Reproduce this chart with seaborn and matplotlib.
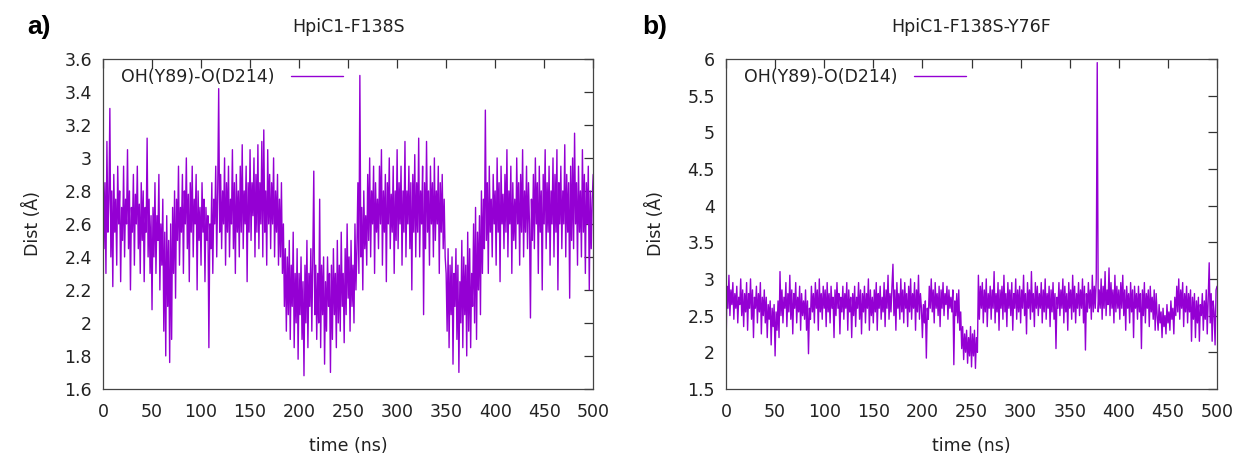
import numpy as np
import pandas as pd
import matplotlib
matplotlib.use("Agg")
import matplotlib.pyplot as plt
import seaborn as sns

# distance OH(Y89)-O(D214), every 1 ns (one row = 10 ns)
dist_a = [
    3.02, 2.45, 2.85, 2.30, 3.10, 2.55, 2.75, 3.30, 2.40, 2.80,
    2.22, 2.90, 2.55, 2.75, 2.35, 2.95, 2.60, 2.80, 2.25, 2.70,
    2.50, 2.95, 2.40, 2.75, 2.60, 3.05, 2.45, 2.80, 2.20, 2.70,
    2.55, 2.90, 2.35, 2.78, 2.60, 2.95, 2.45, 2.72, 2.30, 2.85,
    2.50, 2.80, 2.25, 2.70, 2.55, 3.12, 2.40, 2.75, 2.30, 2.65,
    2.08, 2.70, 2.40, 2.85, 2.30, 2.65, 2.50, 2.90, 2.20, 2.60,
    2.35, 2.75, 1.95, 2.55, 1.80, 2.65, 2.10, 2.50, 1.76, 2.60,
    1.90, 2.70, 2.30, 2.80, 2.15, 2.75, 2.50, 2.95, 2.35, 2.70,
    2.55, 2.90, 2.30, 2.80, 2.60, 3.00, 2.45, 2.78, 2.25, 2.85,
    2.55, 2.95, 2.40, 2.75, 2.60, 2.90, 2.20, 2.80, 2.50, 2.70,
    2.35, 2.85, 2.55, 2.75, 2.25, 2.70, 2.50, 2.65, 1.85, 2.60,
    2.45, 2.85, 2.30, 2.75, 2.60, 2.95, 2.40, 2.80, 3.42, 2.55,
    2.90, 2.45, 2.80, 2.60, 3.00, 2.35, 2.85, 2.55, 2.95, 2.40,
    2.75, 2.60, 3.05, 2.45, 2.85, 2.30, 2.90, 2.55, 2.80, 2.40,
    2.95, 2.55, 3.08, 2.45, 2.80, 2.60, 2.95, 2.25, 2.85, 2.55,
    3.05, 2.50, 2.85, 2.65, 3.00, 2.40, 2.90, 2.55, 3.08, 2.45,
    2.85, 2.60, 3.10, 2.40, 3.17, 2.55, 2.80, 2.35, 3.05, 2.60,
    2.90, 2.45, 2.85, 2.60, 3.00, 2.40, 2.80, 2.55, 2.90, 2.35,
    2.75, 2.40, 2.85, 2.30, 2.60, 2.10, 2.45, 1.95, 2.40, 2.05,
    2.50, 1.90, 2.35, 2.10, 2.55, 1.85, 2.30, 2.00, 2.45, 1.78,
    2.30, 2.05, 2.40, 1.90, 2.25, 1.68, 2.35, 2.00, 2.50, 1.85,
    2.30, 2.10, 2.45, 1.95, 2.40, 2.92, 2.05, 2.35, 1.90, 2.30,
    2.00, 2.75, 1.85, 2.35, 2.05, 2.40, 1.75, 2.25, 1.95, 2.40,
    2.10, 2.30, 1.70, 2.35, 1.90, 2.45, 2.05, 2.30, 1.85, 2.50,
    2.00, 2.35, 1.95, 2.55, 2.10, 2.30, 1.88, 2.45, 2.05, 2.60,
    2.15, 2.40, 1.95, 2.50, 2.10, 2.35, 2.00, 2.60, 2.20, 2.45,
    2.85, 2.30, 3.50, 2.40, 2.70, 2.20, 2.80, 2.45, 2.65, 2.35,
    2.90, 2.50, 3.00, 2.40, 2.80, 2.60, 2.95, 2.30, 2.85, 2.55,
    2.75, 2.45, 2.95, 2.60, 3.05, 2.35, 2.80, 2.55, 2.90, 2.25,
    2.85, 2.60, 3.00, 2.45, 2.78, 2.55, 2.95, 2.30, 2.80, 2.50,
    3.05, 2.45, 2.85, 2.60, 2.95, 2.35, 2.80, 2.55, 3.10, 2.40,
    2.80, 2.60, 2.95, 2.45, 2.85, 2.20, 2.90, 2.55, 3.02, 2.40,
    2.85, 2.55, 3.12, 2.40, 2.80, 2.60, 2.95, 2.05, 2.85, 2.45,
    3.10, 2.55, 2.80, 2.35, 2.95, 2.60, 2.85, 2.40, 3.00, 2.50,
    2.80, 2.60, 2.95, 2.30, 2.85, 2.55, 2.90, 2.45, 2.75, 2.40,
    2.30, 1.95, 2.45, 1.85, 2.35, 2.05, 2.40, 1.75, 2.30, 2.10,
    2.45, 1.90, 2.35, 1.70, 2.25, 2.00, 2.50, 1.85, 2.40, 2.05,
    2.35, 1.80, 2.55, 1.95, 2.45, 1.85, 2.30, 2.10, 2.60, 2.00,
    2.70, 1.90, 2.55, 2.20, 2.65, 2.05, 2.80, 2.30, 2.75, 2.45,
    3.29, 2.50, 2.85, 2.30, 2.95, 2.55, 2.75, 2.40, 2.90, 2.60,
    2.80, 2.35, 3.00, 2.55, 2.85, 2.25, 2.95, 2.60, 2.78, 2.45,
    2.90, 2.55, 3.05, 2.40, 2.80, 2.60, 2.95, 2.30, 2.85, 2.50,
    2.75, 2.45, 3.00, 2.60, 2.85, 2.35, 2.90, 2.55, 3.05, 2.40,
    2.80, 2.55, 2.95, 2.45, 2.85, 2.60, 2.03, 2.75, 2.50, 2.90,
    2.45, 3.00, 2.60, 2.85, 2.30, 2.95, 2.55, 2.80, 2.20, 2.90,
    2.60, 3.05, 2.45, 2.85, 2.55, 2.95, 2.35, 2.80, 2.60, 3.00,
    2.40, 2.90, 2.55, 3.05, 2.20, 2.85, 2.60, 2.95, 2.45, 2.80,
    2.60, 3.08, 2.40, 2.90, 2.55, 2.85, 2.15, 2.95, 2.50, 3.00,
    2.45, 3.15, 2.60, 2.85, 2.35, 2.95, 2.55, 2.80, 2.40, 3.05,
    2.55, 2.90, 2.30, 2.85, 2.60, 2.95, 2.20, 2.80, 2.45, 2.75,
    2.90,
]

dist_b = [
    2.00, 2.90, 2.60, 3.05, 2.50, 2.85, 2.65, 2.95, 2.45, 2.80,
    2.60, 2.90, 2.40, 2.75, 2.65, 3.00, 2.50, 2.85, 2.35, 2.80,
    2.55, 2.95, 2.30, 2.80, 2.60, 3.00, 2.45, 2.85, 2.20, 2.75,
    2.60, 2.90, 2.40, 2.80, 2.55, 2.95, 2.25, 2.75, 2.50, 2.85,
    2.40, 2.75, 2.20, 2.65, 2.45, 2.70, 2.10, 2.60, 2.35, 2.65,
    1.95, 2.55, 2.30, 2.70, 2.20, 3.10, 2.50, 2.85, 2.40, 2.75,
    2.60, 2.95, 2.35, 2.80, 2.55, 3.05, 2.45, 2.85, 2.25, 2.80,
    2.60, 2.95, 2.40, 2.75, 2.55, 2.90, 2.30, 2.80, 2.50, 2.70,
    2.45, 2.85, 2.30, 2.70, 1.98, 2.60, 2.45, 2.90, 2.55, 2.80,
    2.40, 2.95, 2.60, 2.85, 2.30, 3.00, 2.55, 2.80, 2.45, 2.90,
    2.60, 2.85, 2.35, 2.95, 2.55, 2.80, 2.40, 2.90, 2.60, 2.75,
    2.20, 2.85, 2.50, 2.95, 2.60, 2.80, 2.25, 2.75, 2.55, 2.90,
    2.45, 2.80, 2.60, 2.95, 2.30, 2.85, 2.55, 2.75, 2.20, 2.80,
    2.50, 2.90, 2.35, 2.75, 2.60, 2.95, 2.45, 2.85, 2.25, 2.80,
    2.55, 2.90, 2.40, 2.80, 2.60, 3.00, 2.30, 2.85, 2.50, 2.75,
    2.40, 2.85, 2.55, 2.95, 2.30, 2.80, 2.60, 2.90, 2.45, 2.75,
    2.55, 2.95, 2.35, 2.85, 2.60, 3.05, 2.45, 2.80, 2.55, 2.90,
    3.20, 2.50, 2.85, 2.30, 2.95, 2.60, 2.80, 2.45, 3.00, 2.55,
    2.85, 2.40, 2.95, 2.60, 2.80, 2.35, 2.90, 2.55, 3.00, 2.45,
    2.80, 2.60, 2.95, 2.30, 2.85, 2.55, 3.05, 2.45, 2.80, 2.60,
    2.20, 2.65, 2.40, 2.70, 1.92, 2.60, 2.45, 2.90, 2.60, 3.00,
    2.55, 2.85, 2.40, 2.95, 2.60, 2.80, 2.50, 2.90, 2.35, 2.85,
    2.60, 2.95, 2.50, 2.80, 2.65, 2.90, 2.45, 2.85, 2.60, 2.75,
    2.55, 2.85, 1.83, 2.70, 2.50, 2.80, 2.40, 2.85, 2.30, 2.55,
    2.05, 2.35, 1.90, 2.25, 2.00, 2.30, 1.85, 2.20, 1.95, 2.35,
    1.80, 2.25, 1.95, 2.30, 1.78, 2.20, 2.00, 3.05, 2.45, 2.90,
    2.60, 2.95, 2.40, 2.85, 2.55, 3.00, 2.35, 2.80, 2.60, 2.90,
    2.45, 2.85, 2.60, 3.10, 2.40, 2.80, 2.55, 2.95, 2.30, 2.85,
    2.60, 2.90, 2.45, 3.05, 2.55, 2.80, 2.35, 2.95, 2.60, 2.85,
    2.50, 2.95, 2.30, 2.80, 2.60, 3.00, 2.45, 2.85, 2.55, 2.90,
    2.40, 2.85, 2.60, 3.05, 2.50, 2.80, 2.25, 2.95, 2.60, 2.85,
    2.45, 3.10, 2.55, 2.80, 2.35, 2.95, 2.60, 2.90, 2.50, 2.80,
    2.60, 2.95, 2.40, 2.85, 2.55, 3.00, 2.45, 2.80, 2.60, 2.90,
    2.35, 2.85, 2.55, 2.95, 2.45, 2.80, 2.05, 2.75, 2.60, 2.95,
    2.50, 2.85, 2.60, 3.00, 2.40, 2.90, 2.55, 2.80, 2.30, 2.95,
    2.60, 2.85, 2.45, 3.05, 2.55, 2.90, 2.40, 2.80, 2.60, 2.95,
    2.50, 2.85, 2.60, 3.00, 2.40, 2.90, 2.03, 2.80, 2.55, 2.95,
    2.60, 2.85, 2.45, 3.05, 2.55, 2.90, 2.60, 3.00, 5.95, 2.55,
    2.85, 2.60, 3.00, 2.45, 2.90, 2.60, 3.10, 2.50, 2.85, 2.65,
    3.15, 2.50, 2.95, 2.60, 2.85, 2.40, 3.05, 2.55, 2.90, 2.60,
    2.85, 2.45, 2.95, 2.60, 3.05, 2.50, 2.85, 2.30, 2.90, 2.60,
    2.80, 2.40, 2.95, 2.55, 2.85, 2.20, 2.90, 2.60, 2.80, 2.45,
    2.90, 2.55, 2.80, 2.05, 2.85, 2.50, 2.95, 2.40, 2.80, 2.60,
    2.85, 2.35, 2.90, 2.55, 2.75, 2.45, 2.85, 2.30, 2.80, 2.50,
    2.30, 2.65, 2.40, 2.55, 2.20, 2.60, 2.35, 2.50, 2.25, 2.65,
    2.40, 2.55, 2.30, 2.70, 2.45, 2.60, 2.25, 2.75, 2.50, 2.90,
    2.55, 3.00, 2.45, 2.85, 2.60, 2.95, 2.35, 2.80, 2.55, 2.90,
    2.40, 2.80, 2.55, 2.85, 2.15, 2.75, 2.45, 2.80, 2.20, 2.70,
    2.40, 2.75, 2.15, 2.65, 2.50, 2.80, 2.30, 2.70, 2.45, 2.85,
    2.25, 2.75, 3.22, 2.40, 2.80, 2.15, 2.70, 2.55, 2.10, 2.85,
    2.90,
]

time_ns = np.linspace(0, 500, len(dist_a))

titles = ["HpiC1-F138S", "HpiC1-F138S-Y76F"]
panel_labels = ["a)", "b)"]
series_label = "OH(Y89)-O(D214)"
ylims = [(1.6, 3.6), (1.5, 6.0)]
yticks = [np.arange(1.6, 3.61, 0.2), np.arange(1.5, 6.01, 0.5)]

sns.set_style("white")
plt.rcParams["font.family"] = ["DejaVu Sans"]
plt.rcParams["text.color"] = "#222222"
plt.rcParams["axes.labelcolor"] = "#222222"

fig = plt.figure(figsize=(12.41, 4.57), dpi=100)
ax_a = fig.add_axes([0.083, 0.149, 0.395, 0.722])
ax_b = fig.add_axes([0.585, 0.149, 0.3957, 0.722])

for i, (ax, vals) in enumerate(zip([ax_a, ax_b], [dist_a, dist_b])):
    df = pd.DataFrame({"time": time_ns, "dist": vals})
    sns.lineplot(data=df, x="time", y="dist", ax=ax, color="#9400D3",
                 linewidth=1.0, label=series_label, estimator=None, sort=False)
    ax.set_xlim(0, 500)
    ax.set_ylim(*ylims[i])
    ax.set_xticks(np.arange(0, 501, 50))
    ax.set_yticks(yticks[i])
    ax.set_yticklabels([f"{v:g}" for v in np.round(yticks[i], 2)])
    ax.tick_params(direction="in", length=6.5, width=0.9, color="#333333",
                   top=True, right=True, labelsize=12.5, labelcolor="#222222")
    ax.tick_params(axis="x", pad=10)
    ax.tick_params(axis="y", pad=8)
    for sp in ax.spines.values():
        sp.set_color("#444444")
        sp.set_linewidth(0.9)
    ax.set_xlabel("time (ns)", fontsize=12.5, labelpad=12)
    ax.set_ylabel("Dist (Å)", fontsize=12.5, labelpad=16)
    ax.text(0.5, 1.097, titles[i], transform=ax.transAxes, ha="center",
            va="center", fontsize=12.5)
    ax.legend(loc="upper left", bbox_to_anchor=(0.02, 1.0), frameon=False,
              markerfirst=False, fontsize=12.5, handlelength=3.0,
              handletextpad=0.9, borderaxespad=0.3, borderpad=0.2)

fig.text(27 / 1241, 1 - 27 / 457, panel_labels[0], fontsize=19,
         fontweight="bold", family="Liberation Sans", va="center", ha="left",
         color="black")
fig.text(642 / 1241, 1 - 27 / 457, panel_labels[1], fontsize=19,
         fontweight="bold", family="Liberation Sans", va="center", ha="left",
         color="black")

fig.savefig("out.png", dpi=100)
